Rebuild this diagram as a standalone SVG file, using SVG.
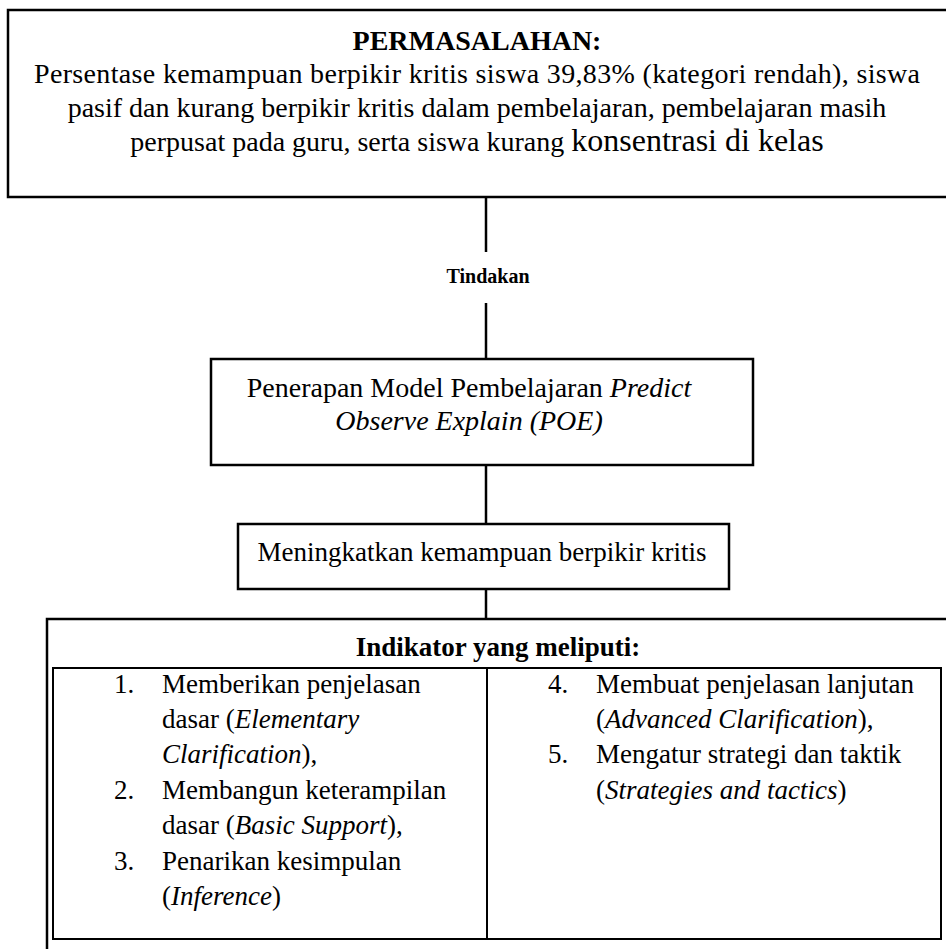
<svg xmlns="http://www.w3.org/2000/svg" width="946" height="949" viewBox="0 0 946 949">
<style>
text { font-family: "Liberation Serif", "Times New Roman", serif; fill: #000; }
.box { fill: #fff; stroke: #000; stroke-width: 2.5; }
.tbl { fill: none; stroke: #000; stroke-width: 2; }
.conn { stroke: #000; stroke-width: 2.5; fill: none; }
.b { font-weight: bold; }
.i { font-style: italic; }
.body { font-size: 28px; }
.list { font-size: 27px; }
</style>
<rect width="946" height="949" fill="#fff"/>
<g id="connectors">
  <line class="conn" x1="486" y1="197" x2="486" y2="252"/>
  <line class="conn" x1="486" y1="303" x2="486" y2="359"/>
  <line class="conn" x1="486" y1="465" x2="486" y2="524"/>
  <line class="conn" x1="486" y1="589" x2="486" y2="619"/>
  <text x="488" y="283" text-anchor="middle" class="b" font-size="20">Tindakan</text>
</g>
<g id="permasalahan">
  <rect class="box" x="8" y="10" width="960" height="187"/>
  <text x="477" y="50" text-anchor="middle" class="b" font-size="28">PERMASALAHAN:</text>
  <text x="477" y="83" text-anchor="middle" class="body" textLength="886" lengthAdjust="spacing">Persentase kemampuan berpikir kritis siswa 39,83% (kategori rendah), siswa</text>
  <text x="477" y="117" text-anchor="middle" class="body">pasif dan kurang berpikir kritis dalam pembelajaran, pembelajaran masih</text>
  <text x="477" y="151" text-anchor="middle" class="body">perpusat pada guru, serta siswa kurang <tspan font-size="32">konsentrasi di kelas</tspan></text>
</g>
<g id="poe">
  <rect class="box" x="211" y="359" width="542" height="106"/>
  <text x="469" y="397" text-anchor="middle" class="body">Penerapan Model Pembelajaran <tspan class="i">Predict</tspan></text>
  <text x="469" y="430" text-anchor="middle" class="body i">Observe Explain (POE)</text>
</g>
<g id="meningkatkan">
  <rect class="box" x="238" y="524" width="491" height="65"/>
  <text x="482" y="561" text-anchor="middle" font-size="27">Meningkatkan kemampuan berpikir kritis</text>
</g>
<g id="indikator">
  <rect class="box" x="47" y="619" width="930" height="350"/>
  <text x="498" y="656" text-anchor="middle" class="b" font-size="27">Indikator yang meliputi:</text>
  <rect class="tbl" x="53" y="668" width="888" height="271"/>
  <line class="tbl" x1="487" y1="668" x2="487" y2="939"/>
  <g class="list">
    <text x="114" y="693">1.</text>
    <text x="162" y="693">Memberikan penjelasan</text>
    <text x="162" y="728">dasar (<tspan class="i">Elementary</tspan></text>
    <text x="162" y="763"><tspan class="i">Clarification</tspan>),</text>
    <text x="114" y="799">2.</text>
    <text x="162" y="799">Membangun keterampilan</text>
    <text x="162" y="834">dasar (<tspan class="i">Basic Support</tspan>),</text>
    <text x="114" y="870">3.</text>
    <text x="162" y="870">Penarikan kesimpulan</text>
    <text x="162" y="905">(<tspan class="i">Inference</tspan>)</text>
    <text x="548" y="693">4.</text>
    <text x="596" y="693">Membuat penjelasan lanjutan</text>
    <text x="596" y="728">(<tspan class="i">Advanced Clarification</tspan>),</text>
    <text x="548" y="763">5.</text>
    <text x="596" y="763">Mengatur strategi dan taktik</text>
    <text x="596" y="799">(<tspan class="i">Strategies and tactics</tspan>)</text>
  </g>
</g>
</svg>
